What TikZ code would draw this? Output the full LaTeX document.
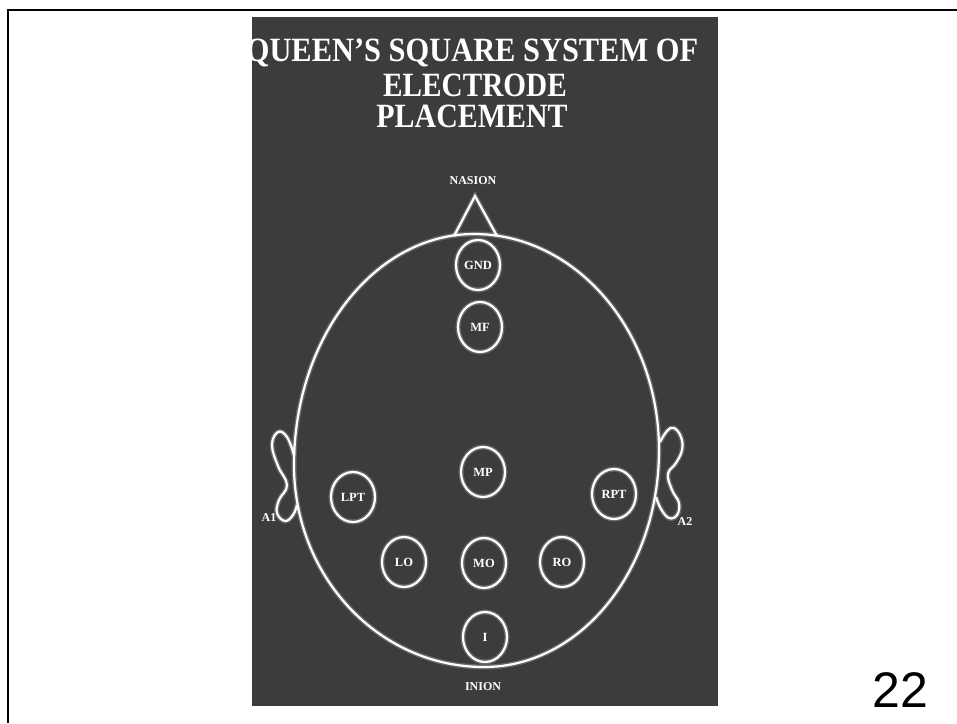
\documentclass[tikz,border=0pt]{standalone}
\usepackage{fontspec}
\setmainfont{Liberation Serif}
\newfontfamily\numfont{Liberation Sans}
\usetikzlibrary{shapes.geometric}
\definecolor{photobg}{RGB}{60,60,60}
\begin{document}
\begin{tikzpicture}[x=1pt,y=-1pt,
  glowline/.style={draw=white, line width=2.2pt, preaction={draw=white, opacity=0.22, line width=5pt}},
  electrode/.style={ellipse, glowline, minimum width=44pt, minimum height=50pt, inner sep=0pt, text=white, font=\bfseries\fontsize{12.5}{12.5}\selectfont},
  smalllabel/.style={text=white, font=\bfseries\fontsize{12}{12}\selectfont, inner sep=0pt},
  titleline/.style={text=white, font=\bfseries\fontsize{34}{34}\selectfont, inner sep=0pt, anchor=base}]
\useasboundingbox (0,0) rectangle (957,723);
\fill[white] (0,0) rectangle (957,723);
\draw[black, line width=1.8pt] (7.6,723) -- (7.6,9.8) -- (957,9.8);
\fill[photobg] (252,17) rectangle (718,706);
\begin{scope}
  \clip (252,17) rectangle (718,706);
  \node[titleline, xscale=0.895] (t1) at (472,61) {QUEEN'S SQUARE SYSTEM OF};
  \node[titleline, xscale=0.86] (t2) at (475,96) {ELECTRODE};
  \node[titleline, xscale=0.88] (t3) at (472,127) {PLACEMENT};
\end{scope}
% head
\draw[glowline] (474,234) .. controls (576,234) and (659,331) .. (659,450)
  .. controls (659,570) and (581,667) .. (484,667)
  .. controls (379,667) and (294,577) .. (294,465)
  .. controls (294,337) and (375,234) .. (474,234) -- cycle;
% nasion
\draw[glowline, line join=miter] (454,236) -- (475,196) -- (497,236);
\node[smalllabel] (nasion) at (473,181) {NASION};
\node[smalllabel] (inion) at (483,687) {INION};
% ears
\draw[glowline] plot[smooth, tension=0.7] coordinates {(294,455) (287,437) (278,432) (272,445) (278,466) (287,485) (279,500) (277,513) (285,521) (293,515) (297,505)};
\draw[glowline] plot[smooth, tension=0.7] coordinates {(660,442) (667,431) (674,428) (681,437) (682,450) (676,463) (668,474) (672,490) (679,503) (677,515) (669,518) (661,509) (656,497)};
\node[smalllabel] (a1) at (269,518) {A1};
\node[smalllabel] (a2) at (685,522) {A2};
% electrodes
\node[electrode] (gnd) at (478,265) {GND};
\node[electrode] (mf) at (480,327) {MF};
\node[electrode] (mp) at (483,472) {MP};
\node[electrode] (lpt) at (353,497) {LPT};
\node[electrode] (rpt) at (614,494) {RPT};
\node[electrode] (lo) at (404,562) {LO};
\node[electrode] (mo) at (484,563) {MO};
\node[electrode] (ro) at (562,562) {RO};
\node[electrode] (i) at (485,637) {I};
% page number
\node[font=\numfont\fontsize{50}{50}\selectfont, anchor=base, inner sep=0pt] (num) at (900.5,707) {22};
\end{tikzpicture}
\end{document}
